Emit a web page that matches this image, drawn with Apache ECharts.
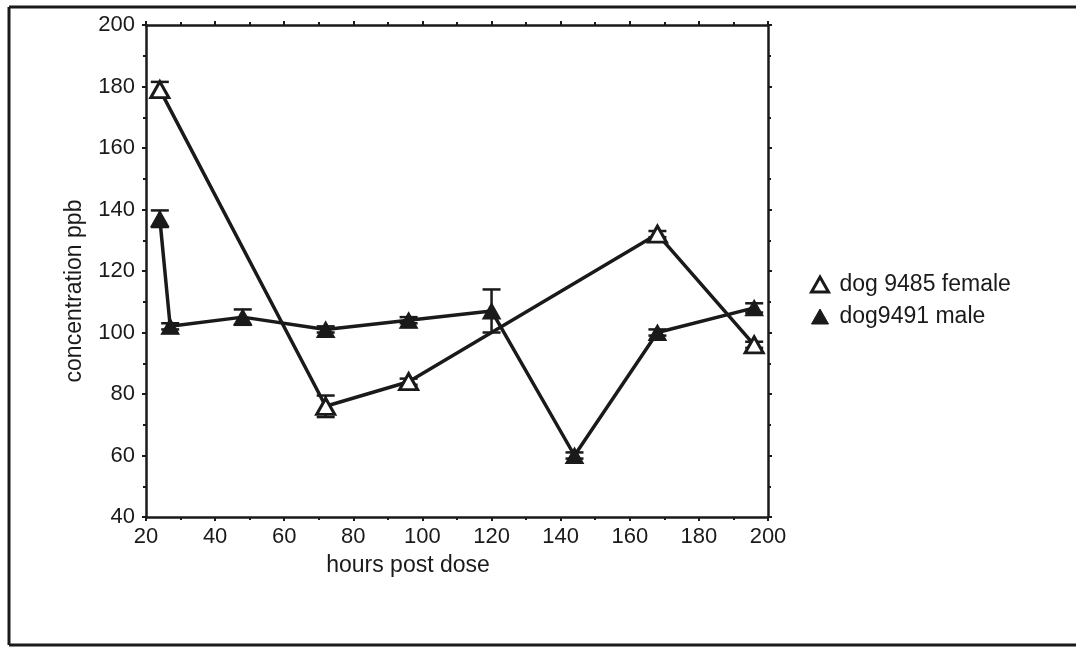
<!DOCTYPE html>
<html><head><meta charset="utf-8">
<script src="https://cdn.jsdelivr.net/npm/echarts@6/dist/echarts.min.js"></script>
<style>html,body{margin:0;padding:0;background:#fff}#c{width:1076px;height:647px}</style>
</head><body><div id="c"></div>
<script>
const femaleName = 'dog 9485 female';
const maleName = 'dog9491 male';
const femaleHours = [24, 72, 96, 168, 196];
const femaleConc = [179, 76, 84, 132, 96];
const femaleErr = [2.5, 3.5, 1, 1, 1];
const maleHours = [24, 27, 48, 72, 96, 120, 144, 168, 196];
const maleConc = [137, 102, 105, 101, 104, 107, 60, 100, 108];
const maleErr = [2.7, 1, 2.5, 1, 1, 7, 1, 1, 1.5];
const xTicks = [20, 200, 20];
const yTicks = [40, 200, 20];

const INK = '#1a1a1a';
const FONT = 'Liberation Sans, Arial, sans-serif';

function pts(xs, ys) { return xs.map((x, i) => [x, ys[i]]); }
function errs(xs, ys, es) { return xs.map((x, i) => [x, ys[i] - es[i], ys[i] + es[i]]); }

function errRender(params, api) {
  const x = api.value(0);
  const lo = api.coord([x, api.value(1)]);
  const hi = api.coord([x, api.value(2)]);
  const w = 9;
  const st = { stroke: INK, lineWidth: 2.5 };
  return { type: 'group', children: [
    { type: 'line', shape: { x1: lo[0], y1: lo[1], x2: hi[0], y2: hi[1] }, style: st },
    { type: 'line', shape: { x1: hi[0] - w, y1: hi[1], x2: hi[0] + w, y2: hi[1] }, style: st },
    { type: 'line', shape: { x1: lo[0] - w, y1: lo[1], x2: lo[0] + w, y2: lo[1] }, style: st }
  ]};
}

const axisCommon = {
  axisLine: { show: true, onZero: false, lineStyle: { color: INK, width: 2.5 } },
  axisTick: { show: true, inside: false, length: 4, lineStyle: { color: INK, width: 2 } },
  minorTick: { show: true, splitNumber: 2, length: 3, lineStyle: { color: INK, width: 2 } },
  splitLine: { show: false }
};

const chart = echarts.init(document.getElementById('c'));
chart.setOption({
  backgroundColor: '#fff',
  animation: false,
  grid: { left: 146, right: 308, top: 25, bottom: 130 },
  legend: {
    orient: 'vertical', left: 805, top: 268, itemGap: 9,
    icon: 'triangle', itemWidth: 17, itemHeight: 15,
    textStyle: { color: INK, fontFamily: FONT, fontSize: 23, padding: [0, 0, 0, 6] },
    data: [
      { name: femaleName, itemStyle: { color: '#fff', borderColor: INK, borderWidth: 3 } },
      { name: maleName, itemStyle: { color: INK, borderColor: INK, borderWidth: 1 } }
    ]
  },
  xAxis: [
    Object.assign({
      type: 'value', min: xTicks[0], max: xTicks[1], interval: xTicks[2], position: 'bottom',
      name: 'hours post dose', nameLocation: 'middle', nameGap: 37,
      nameTextStyle: { color: INK, fontFamily: FONT, fontSize: 23, padding: [0, 98, 0, 0] },
      axisLabel: { color: INK, fontFamily: FONT, fontSize: 22, margin: 9 }
    }, axisCommon),
    Object.assign({
      type: 'value', min: xTicks[0], max: xTicks[1], interval: xTicks[2], position: 'top',
      axisLabel: { show: false }
    }, axisCommon)
  ],
  yAxis: [
    Object.assign({
      type: 'value', min: yTicks[0], max: yTicks[1], interval: yTicks[2], position: 'left',
      name: 'concentration ppb', nameLocation: 'middle', nameGap: 60,
      nameTextStyle: { color: INK, fontFamily: FONT, fontSize: 23, padding: [0, 40, 0, 0] },
      axisLabel: { color: INK, fontFamily: FONT, fontSize: 22, margin: 11 }
    }, axisCommon),
    Object.assign({
      type: 'value', min: yTicks[0], max: yTicks[1], interval: yTicks[2], position: 'right',
      axisLabel: { show: false }
    }, axisCommon)
  ],
  graphic: [
    { type: 'line', shape: { x1: 9, y1: 7, x2: 1076, y2: 7 }, style: { stroke: INK, lineWidth: 3 }, silent: true },
    { type: 'line', shape: { x1: 9, y1: 7, x2: 9, y2: 645 }, style: { stroke: INK, lineWidth: 3 }, silent: true },
    { type: 'line', shape: { x1: 9, y1: 645, x2: 1076, y2: 645 }, style: { stroke: INK, lineWidth: 3 }, silent: true }
  ],
  series: [
    { type: 'custom', name: 'errF', renderItem: errRender, data: errs(femaleHours, femaleConc, femaleErr), z: 3, silent: true },
    { type: 'custom', name: 'errM', renderItem: errRender, data: errs(maleHours, maleConc, maleErr), z: 3, silent: true },
    {
      type: 'line', name: maleName, data: pts(maleHours, maleConc),
      symbol: 'triangle', symbolSize: [18, 16], z: 4,
      lineStyle: { color: INK, width: 3.5 },
      itemStyle: { color: INK, borderColor: INK, borderWidth: 1 }
    },
    {
      type: 'line', name: femaleName, data: pts(femaleHours, femaleConc),
      symbol: 'triangle', symbolSize: [18, 16], z: 5,
      lineStyle: { color: INK, width: 3.5 },
      itemStyle: { color: '#fff', borderColor: INK, borderWidth: 3 }
    }
  ]
});
</script></body></html>
